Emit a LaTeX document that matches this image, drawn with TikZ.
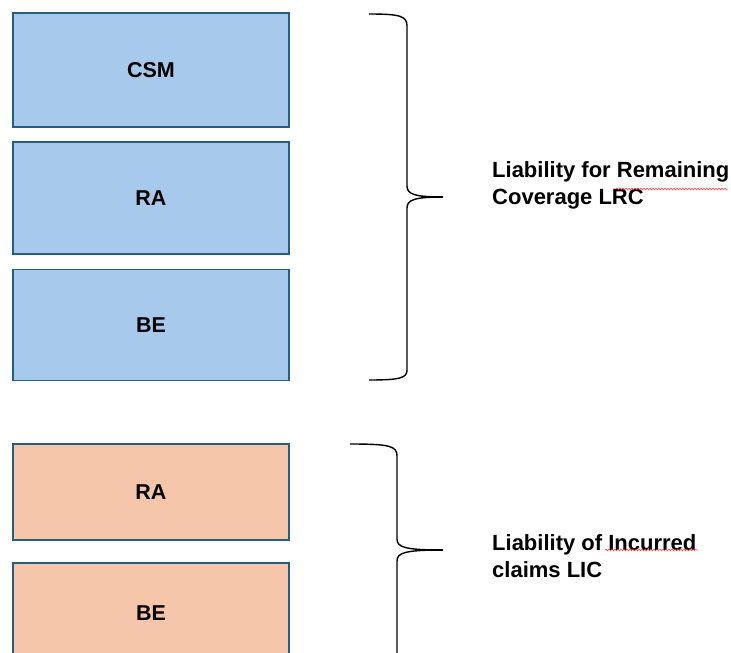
\documentclass[tikz,border=0pt]{standalone}
\usepackage{fontspec}
\setmainfont{Liberation Sans}
\usetikzlibrary{decorations.pathmorphing}
\definecolor{lrcfill}{RGB}{166,201,236}
\definecolor{licfill}{RGB}{245,198,170}
\definecolor{boxline}{RGB}{38,94,130}
\begin{document}
\begin{tikzpicture}[x=1pt,y=-1pt,
    part/.style={draw=boxline,line width=1.8pt,minimum width=276pt,inner sep=0pt,
        font=\fontsize{21.5}{26}\selectfont\bfseries},
    lrc/.style={part,fill=lrcfill},
    lic/.style={part,fill=licfill},
    brace/.style={line width=1.4pt},
    label/.style={anchor=west,align=left,inner sep=0pt,
        font=\fontsize{22}{27}\selectfont\bfseries},
    spell/.style={red!80!white,line width=0.5pt,decorate,
        decoration={snake,amplitude=0.9pt,segment length=3pt}}]
        \useasboundingbox (0,0) rectangle (731,653);
        % upper block
        \node[lrc,minimum height=114pt] (csm) at (151,70) {CSM};
        \node[lrc,minimum height=112pt] (ra1) at (151,198) {RA};
        \node[lrc,minimum height=111pt] (be1) at (151,325) {BE};
        % lower block
        \node[lic,minimum height=96pt] (ra2) at (151,492) {RA};
        \node[lic,minimum height=100pt] (be2) at (151,613) {BE};
        % braces
        \coordinate (t1) at (443,197);
        \draw[brace] (369,14) .. controls (400,14) and (407,16) .. (407,26) -- (407,186)
            .. controls (407,194) and (414,197) .. (t1)
            .. controls (414,197) and (407,200) .. (407,208) -- (407,370)
            .. controls (407,378) and (400,380) .. (369,380);
        \draw[brace] (t1) -- +(-22,0);
        \coordinate (t2) at (443,550);
        \draw[brace] (350,444) .. controls (390,444) and (397,446) .. (397,456) -- (397,539)
            .. controls (397,547) and (404,550) .. (t2)
            .. controls (404,550) and (397,553) .. (397,561) -- (397,680);
        \draw[brace] (t2) -- +(-22,0);
        % labels
        \node[label] (lrctext) at (492,185) {Liability for Remaining\\Coverage LRC};
        \node[label] (lictext) at (492,556) {Liability of Incurred\\claims LIC};
        \draw[spell] (616,189) -- (728,189);
        \draw[spell] (605,550) -- (698,550);
    \end{tikzpicture}
\end{document}
